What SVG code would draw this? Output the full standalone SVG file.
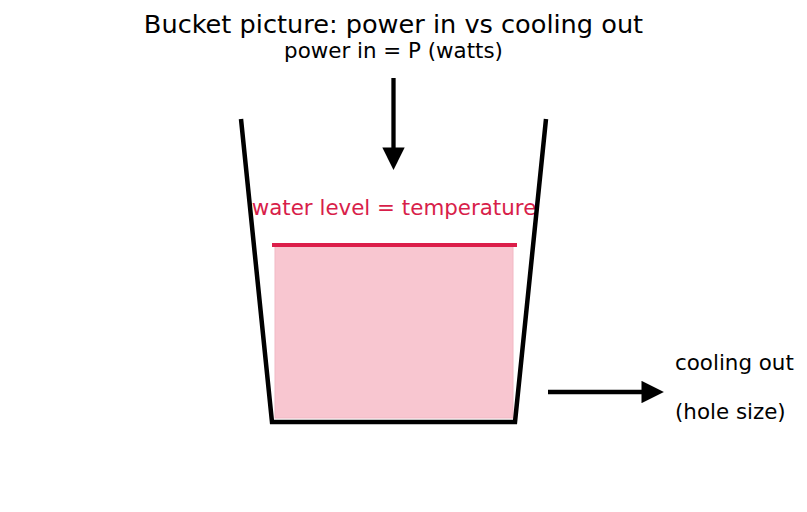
<svg xmlns="http://www.w3.org/2000/svg" width="807" height="512" viewBox="0 0 807 512">
<style>
text{font-family:"DejaVu Sans",sans-serif;}
.t{font-size:21.4px;fill:#000;}
.wall{stroke:#000;stroke-width:4.5;fill:none;stroke-linecap:butt;stroke-linejoin:miter;}
.arr{stroke:#000;stroke-width:4.3;fill:none;}
</style>
<defs>
<marker id="ah" viewBox="0 0 10 10" refX="2" refY="5" markerWidth="5.6" markerHeight="5.2" orient="auto" markerUnits="strokeWidth">
<path d="M0,0 L10,5 L0,10 Z" fill="#000"/>
</marker>
</defs>
<rect width="807" height="512" fill="#fff"/>
<text x="393.5" y="33" text-anchor="middle" style="font-size:25.6px">Bucket picture: power in vs cooling out</text>
<text x="393.5" y="58" text-anchor="middle" class="t">power in = P (watts)</text>
<g id="water">
<rect x="275" y="245" width="238" height="173" fill="#f8c6d0" stroke="#f2b8c4" stroke-width="1"/>
<line x1="272" y1="245" x2="517" y2="245" stroke="#dc1e4a" stroke-width="4"/>
<text x="394" y="215" text-anchor="middle" class="t" style="fill:#d81e4a">water level = temperature</text>
</g>
<g id="bucket">
<path class="wall" d="M241,119 L272,422 L515,422 L546,119"/>
</g>
<g id="connectors">
<line class="arr" x1="393.5" y1="78" x2="393.5" y2="152" marker-end="url(#ah)"/>
<line class="arr" x1="548" y1="392" x2="646" y2="392" marker-end="url(#ah)"/>
</g>
<g id="cooling">
<text x="675" y="370" class="t">cooling out</text>
<text x="675" y="419" class="t">(hole size)</text>
</g>
</svg>
